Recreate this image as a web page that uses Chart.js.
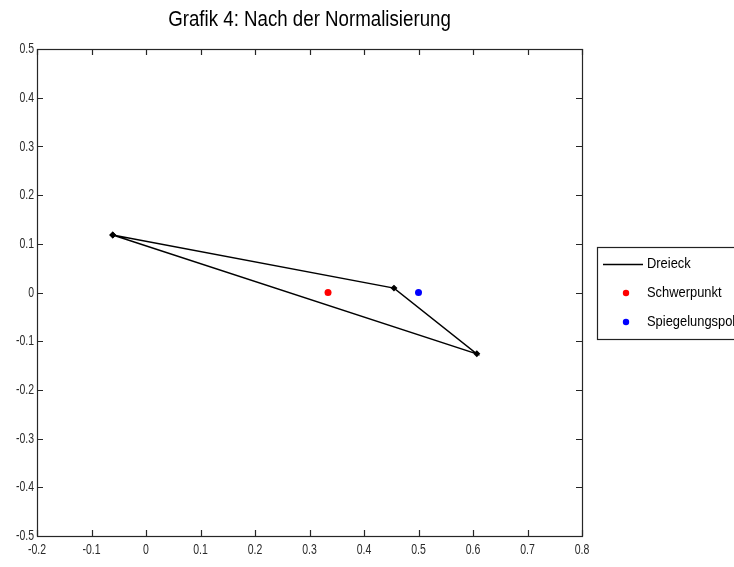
<!DOCTYPE html>
<html>
<head>
<meta charset="utf-8">
<script src="https://cdn.jsdelivr.net/npm/chart.js@4/dist/chart.umd.min.js"></script>
<style>
  html, body { margin: 0; padding: 0; background: #fff; }
  #wrap { position: relative; width: 734px; height: 567px; }
</style>
</head>
<body>
<div id="wrap"><canvas id="c" width="734" height="567"></canvas></div>
<script>
// ---- Data ----
const titleText = "Grafik 4: Nach der Normalisierung";
const seriesNames = ["Dreieck", "Schwerpunkt", "Spiegelungspol"];
const dreieckX = [-0.061, 0.455, 0.607, -0.061];
const dreieckY = [0.118, 0.009, -0.126, 0.118];
const schwerpunktX = [0.334];
const schwerpunktY = [0.0];
const spiegelungspolX = [0.5];
const spiegelungspolY = [0.0];
const xTicks = [-0.2, -0.1, 0, 0.1, 0.2, 0.3, 0.4, 0.5, 0.6, 0.7, 0.8];
const yTicks = [-0.5, -0.4, -0.3, -0.2, -0.1, 0, 0.1, 0.2, 0.3, 0.4, 0.5];

const FONT = "'Liberation Sans', Arial, sans-serif";
const toPts = (xs, ys) => xs.map((x, i) => ({ x: x, y: ys[i] }));
const fmt = v => { const r = Math.round(v * 10) / 10; return r === 0 ? "0" : String(r); };

// draw horizontally condensed text (MATLAB-like narrow look)
function narrowText(ctx, txt, x, y, sx, align) {
  ctx.save();
  ctx.translate(x, y);
  ctx.scale(sx, 1);
  ctx.textAlign = align;
  ctx.fillText(txt, 0, 0);
  ctx.restore();
}

const boxPlugin = {
  id: 'matlabBox',
  afterDraw(chart) {
    const ctx = chart.ctx;
    const a = chart.chartArea;
    const xs = chart.scales.x, ys = chart.scales.y;
    ctx.save();
    ctx.strokeStyle = '#262626';
    ctx.lineWidth = 1.2;
    // box
    ctx.strokeRect(Math.round(a.left) + 0.5, Math.round(a.top) + 0.5,
                   Math.round(a.right - a.left), Math.round(a.bottom - a.top));
    const tl = 6;
    ctx.beginPath();
    xTicks.forEach(v => {
      const px = Math.round(xs.getPixelForValue(v)) + 0.5;
      ctx.moveTo(px, a.bottom); ctx.lineTo(px, a.bottom - tl);
      ctx.moveTo(px, a.top); ctx.lineTo(px, a.top + tl);
    });
    yTicks.forEach(v => {
      const py = Math.round(ys.getPixelForValue(v)) + 0.5;
      ctx.moveTo(a.left, py); ctx.lineTo(a.left + tl, py);
      ctx.moveTo(a.right, py); ctx.lineTo(a.right - tl, py);
    });
    ctx.stroke();
    // tick labels
    ctx.fillStyle = '#2a2a2a';
    ctx.font = "15px " + FONT;
    ctx.textBaseline = 'middle';
    xTicks.forEach(v => narrowText(ctx, fmt(v), xs.getPixelForValue(v), a.bottom + 14, 0.7, 'center'));
    yTicks.forEach(v => narrowText(ctx, fmt(v), a.left - 3, ys.getPixelForValue(v), 0.7, 'right'));
    // title
    ctx.fillStyle = '#000';
    ctx.font = "22px " + FONT;
    narrowText(ctx, titleText, (a.left + a.right) / 2, 20, 0.85, 'center');
    // legend
    const lx = 597.5, ly = 247.5, lw = 150, lh = 92;
    ctx.fillStyle = '#fff';
    ctx.fillRect(lx, ly, lw, lh);
    ctx.strokeStyle = '#222';
    ctx.lineWidth = 1.2;
    ctx.strokeRect(lx, ly, lw, lh);
    const rows = [264, 293, 322];
    ctx.strokeStyle = '#000';
    ctx.lineWidth = 1.3;
    ctx.beginPath();
    ctx.moveTo(603, rows[0] + 0.5); ctx.lineTo(643, rows[0] + 0.5);
    ctx.stroke();
    ctx.fillStyle = '#ff0000';
    ctx.beginPath(); ctx.arc(626, rows[1], 3.2, 0, Math.PI * 2); ctx.fill();
    ctx.fillStyle = '#0000ff';
    ctx.beginPath(); ctx.arc(626, rows[2], 3.2, 0, Math.PI * 2); ctx.fill();
    ctx.fillStyle = '#000';
    ctx.font = "15px " + FONT;
    seriesNames.forEach((n, i) => narrowText(ctx, n, 647, rows[i], 0.86, 'left'));
    ctx.restore();
  }
};

new Chart(document.getElementById('c'), {
  type: 'scatter',
  data: {
    datasets: [
      {
        label: seriesNames[0],
        data: toPts(dreieckX, dreieckY),
        showLine: true,
        borderColor: '#000',
        backgroundColor: '#000',
        borderWidth: 1.4,
        pointRadius: 2.5,
        pointStyle: 'rectRot',
        tension: 0
      },
      {
        label: seriesNames[1],
        data: toPts(schwerpunktX, schwerpunktY),
        backgroundColor: '#ff0000',
        borderColor: '#ff0000',
        pointRadius: 3.5,
        borderWidth: 0
      },
      {
        label: seriesNames[2],
        data: toPts(spiegelungspolX, spiegelungspolY),
        backgroundColor: '#0000ff',
        borderColor: '#0000ff',
        pointRadius: 3.5,
        borderWidth: 0
      }
    ]
  },
  options: {
    responsive: false,
    animation: false,
    events: [],
    layout: { padding: { top: 49, right: 152, left: 0, bottom: 0 } },
    plugins: { legend: { display: false }, title: { display: false }, tooltip: { enabled: false } },
    scales: {
      x: {
        type: 'linear', min: -0.2, max: 0.8,
        afterBuildTicks: s => { s.ticks = xTicks.map(v => ({ value: v })); },
        afterFit: s => { s.height = 31; },
        grid: { display: false, drawTicks: false },
        border: { display: false },
        ticks: { display: false }
      },
      y: {
        type: 'linear', min: -0.5, max: 0.5,
        afterBuildTicks: s => { s.ticks = yTicks.map(v => ({ value: v })); },
        afterFit: s => { s.width = 37; },
        grid: { display: false, drawTicks: false },
        border: { display: false },
        ticks: { display: false }
      }
    }
  },
  plugins: [boxPlugin]
});
</script>
</body>
</html>
